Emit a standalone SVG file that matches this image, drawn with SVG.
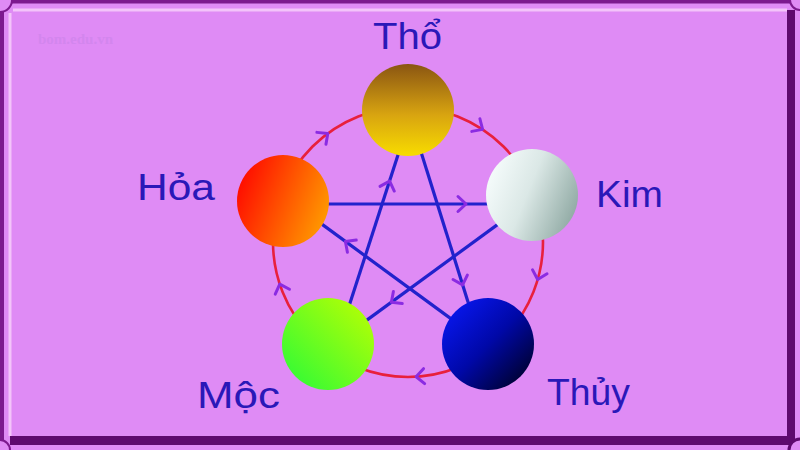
<svg xmlns="http://www.w3.org/2000/svg" width="800" height="450" viewBox="0 0 800 450">
<defs>
<style>
.lbl{font-family:"Liberation Sans","DejaVu Sans",sans-serif;font-size:37px;fill:#2a18b8}
.star{stroke:#2222cc;stroke-width:3.2;fill:none}
.chev{stroke:#8b2be2;stroke-width:3;fill:none;stroke-linecap:round;stroke-linejoin:round}
.wm{font-family:"Liberation Serif","DejaVu Serif",serif;font-weight:bold;font-size:15px;fill:#d386ee}
</style>
<path id="chev" d="M-6,-7.5 L2,0 L-6,7.5"/>
<linearGradient id="gTho" x1="0" y1="0" x2="0" y2="1">
<stop offset="0" stop-color="#8a5512"/><stop offset="0.55" stop-color="#d8a410"/><stop offset="1" stop-color="#f8dc00"/>
</linearGradient>
<linearGradient id="gHoa" x1="0" y1="0.3" x2="1" y2="0.7">
<stop offset="0" stop-color="#ff0a00"/><stop offset="1" stop-color="#ff9c00"/>
</linearGradient>
<linearGradient id="gKim" x1="0" y1="0.3" x2="1" y2="0.7">
<stop offset="0" stop-color="#f6fcfc"/><stop offset="0.45" stop-color="#dbe8e6"/><stop offset="1" stop-color="#8ea8a2"/>
</linearGradient>
<linearGradient id="gMoc" x1="1" y1="0" x2="0" y2="1">
<stop offset="0" stop-color="#c0ff00"/><stop offset="1" stop-color="#26fa3a"/>
</linearGradient>
<linearGradient id="gThuy" x1="0" y1="0" x2="1" y2="1">
<stop offset="0" stop-color="#0a1aff"/><stop offset="0.5" stop-color="#0008a8"/><stop offset="1" stop-color="#000010"/>
</linearGradient>
</defs>

<g id="frame">
<rect x="0" y="0" width="800" height="450" fill="#df8bf5"/>
<rect x="0" y="0" width="795" height="3.5" fill="#7c1a8e"/>
<rect x="0" y="0" width="4" height="445" fill="#7c1a8e"/>
<rect x="787" y="10" width="8" height="435" fill="#5e0a6e"/>
<rect x="10" y="436" width="785" height="9" fill="#5e0a6e"/>
<line x1="13" y1="10" x2="787" y2="10" stroke="#f3c4fa" stroke-width="3"/>
<line x1="10" y1="13" x2="10" y2="436" stroke="#f3c4fa" stroke-width="3"/>
<circle cx="0" cy="0" r="12" fill="#df8bf5" stroke="#7c1a8e" stroke-width="2"/>
<circle cx="800" cy="0" r="10" fill="#df8bf5" stroke="#7c1a8e" stroke-width="2"/>
<circle cx="0" cy="450" r="10" fill="#df8bf5" stroke="#7c1a8e" stroke-width="2"/>
<circle cx="800" cy="450" r="11" fill="#df8bf5" stroke="#5e0a6e" stroke-width="3"/>
<text class="wm" x="38" y="44">bom.edu.vn</text>
</g>

<g id="connectors">
<circle cx="408" cy="242" r="135" fill="none" stroke="#e8203c" stroke-width="2.6"/>
<line class="star" x1="283" y1="204" x2="532" y2="204"/>
<line class="star" x1="417.5" y1="140.7" x2="472.5" y2="316.3"/>
<line class="star" x1="345.4" y1="317.3" x2="402.6" y2="140.7"/>
<line class="star" x1="310.9" y1="216.1" x2="462.1" y2="326.9"/>
<line class="star" x1="509.1" y1="216.1" x2="354.9" y2="328.9"/>
<use href="#chev" class="chev" transform="translate(326.2,134.7) rotate(-37.3)"/>
<use href="#chev" class="chev" transform="translate(480.9,128.3) rotate(32.7)"/>
<use href="#chev" class="chev" transform="translate(538.2,277.6) rotate(105.3)"/>
<use href="#chev" class="chev" transform="translate(418.1,376.6) rotate(175.7)"/>
<use href="#chev" class="chev" transform="translate(280.4,286) rotate(251)"/>
<use href="#chev" class="chev" transform="translate(462,283) rotate(72.6)"/>
<use href="#chev" class="chev" transform="translate(347,242.6) rotate(216.2)"/>
<use href="#chev" class="chev" transform="translate(464,204) rotate(0)"/>
<use href="#chev" class="chev" transform="translate(393,301) rotate(143.8)"/>
<use href="#chev" class="chev" transform="translate(389,183) rotate(-72)"/>
</g>

<g id="node-tho">
<circle cx="408" cy="110" r="46" fill="url(#gTho)"/>
<text class="lbl" x="373" y="49" textLength="69" lengthAdjust="spacingAndGlyphs">Thổ</text>
</g>
<g id="node-hoa">
<circle cx="283" cy="201" r="46" fill="url(#gHoa)"/>
<text class="lbl" x="137" y="200" textLength="78" lengthAdjust="spacingAndGlyphs">Hỏa</text>
</g>
<g id="node-kim">
<circle cx="532" cy="195" r="46" fill="url(#gKim)"/>
<text class="lbl" x="596" y="207" textLength="67" lengthAdjust="spacingAndGlyphs">Kim</text>
</g>
<g id="node-moc">
<circle cx="328" cy="344" r="46" fill="url(#gMoc)"/>
<text class="lbl" x="197" y="408" textLength="83" lengthAdjust="spacingAndGlyphs">Mộc</text>
</g>
<g id="node-thuy">
<circle cx="488" cy="344" r="46" fill="url(#gThuy)"/>
<text class="lbl" x="547" y="405" textLength="83" lengthAdjust="spacingAndGlyphs">Thủy</text>
</g>
</svg>
